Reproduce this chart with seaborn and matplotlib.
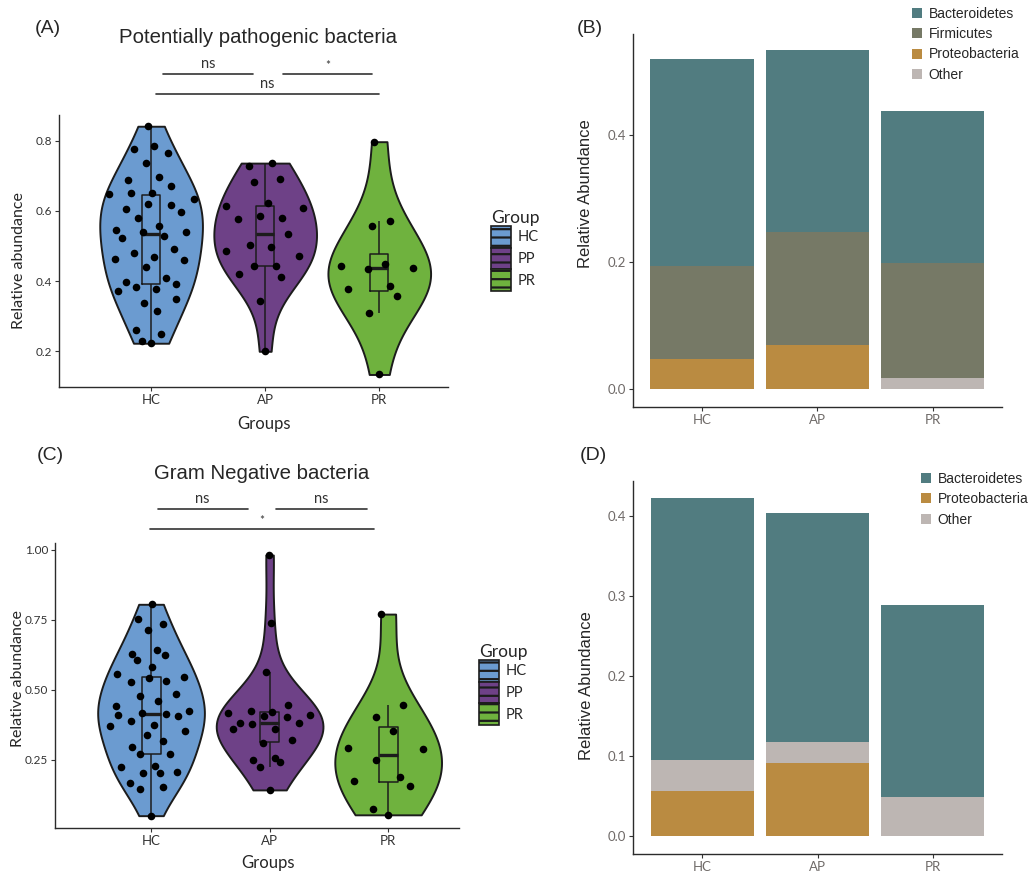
import numpy as np
import pandas as pd
import matplotlib
matplotlib.use("Agg")
import matplotlib.pyplot as plt
from matplotlib.patches import Patch
import seaborn as sns

# ── data ──────────────────────────────────────────────────────────────────────

GROUPS = ["HC", "AP", "PR"]
LEGEND_LABELS = ["HC", "PP", "PR"]
GROUP_COLORS = ["#6B9BD0", "#6E4187", "#6FB23E"]

# (A) potentially pathogenic bacteria, relative abundance per sample
PATH_HC = [0.841, 0.776, 0.765, 0.786, 0.736, 0.688, 0.697, 0.672, 0.650, 0.650,
           0.648, 0.596, 0.619, 0.604, 0.633, 0.616, 0.581, 0.558, 0.546, 0.539,
           0.539, 0.527, 0.523, 0.492, 0.479, 0.470, 0.462, 0.459, 0.441, 0.410,
           0.396, 0.391, 0.384, 0.378, 0.371, 0.350, 0.338, 0.315, 0.261, 0.248,
           0.230, 0.223]
PATH_AP = [0.736, 0.729, 0.691, 0.683, 0.623, 0.613, 0.607, 0.585, 0.579, 0.576,
           0.533, 0.503, 0.497, 0.487, 0.471, 0.444, 0.444, 0.419, 0.413, 0.344,
           0.200]
PATH_PR = [0.797, 0.572, 0.558, 0.449, 0.444, 0.438, 0.435, 0.387, 0.377, 0.358,
           0.310, 0.134]

# (C) gram negative bacteria
GRAM_HC = [0.806, 0.736, 0.713, 0.752, 0.642, 0.624, 0.607, 0.627, 0.582, 0.533,
           0.546, 0.542, 0.527, 0.556, 0.485, 0.480, 0.462, 0.443, 0.425, 0.417,
           0.413, 0.410, 0.408, 0.390, 0.373, 0.375, 0.338, 0.354, 0.319, 0.296,
           0.273, 0.273, 0.230, 0.224, 0.205, 0.205, 0.207, 0.167, 0.155, 0.145,
           0.051]
GRAM_AP = [0.982, 0.738, 0.563, 0.445, 0.425, 0.423, 0.418, 0.411, 0.407, 0.402,
           0.381, 0.380, 0.381, 0.360, 0.362, 0.323, 0.310, 0.250, 0.256, 0.244,
           0.226, 0.143]
GRAM_PR = [0.771, 0.448, 0.402, 0.354, 0.294, 0.288, 0.250, 0.189, 0.175, 0.156,
           0.075, 0.054]

# (B) stacked phylum means, bottom -> top
B_PROTEO = [0.047, 0.069, 0.000]
B_OTHER = [0.000, 0.000, 0.018]
B_FIRMI = [0.147, 0.178, 0.181]
B_BACT = [0.327, 0.287, 0.240]

# (D)
D_PROTEO = [0.056, 0.091, 0.000]
D_OTHER = [0.039, 0.026, 0.049]
D_BACT = [0.3275, 0.286, 0.239]

PHYLUM_COLORS = {
    "Bacteroidetes": "#517C80",
    "Firmicutes": "#767966",
    "Proteobacteria": "#BA8B41",
    "Other": "#BDB6B3",
}

# ── style ─────────────────────────────────────────────────────────────────────

sns.set_theme(style="ticks")
plt.rcParams.update({
    "font.family": ["Liberation Sans", "DejaVu Sans"],
    "hatch.linewidth": 1.6,
    "axes.linewidth": 1.0,
    "axes.edgecolor": "#2b2b2b",
})
HUMANIST = ["Lato", "DejaVu Sans"]
W, H = 1033, 872


def fx(x):
    return x / W


def fy(y):
    return 1 - y / H


def rect(left, top, right, bottom):
    return [fx(left), fy(bottom), (right - left) / W, (bottom - top) / H]


def long_df(hc, ap, pr):
    return pd.DataFrame({
        "group": ["HC"] * len(hc) + ["AP"] * len(ap) + ["PR"] * len(pr),
        "value": hc + ap + pr,
    })


def van_der_corput(n):
    out = []
    for i in range(1, n + 1):
        x, denom, k = 0.0, 1.0, i
        while k:
            k, r = divmod(k, 2)
            denom *= 2
            x += r / denom
        out.append(x)
    return np.array(out)


def quasirandom_x(df, width=0.4, adjust=0.5):
    """Beeswarm-style offsets: spread scaled by the local density."""
    xs = np.zeros(len(df))
    for i, g in enumerate(GROUPS):
        mask = (df["group"] == g).to_numpy()
        y = df.loc[mask, "value"].to_numpy()
        bw = y.std(ddof=1) * len(y) ** -0.2 * adjust
        dens = np.exp(-0.5 * ((y[:, None] - y[None, :]) / bw) ** 2).sum(axis=1)
        dens = dens / dens.max()
        rank = np.argsort(np.argsort(y, kind="stable"), kind="stable")
        off = (van_der_corput(len(y))[rank] - 0.5) * 2 * width * dens
        xs[mask] = i + off
    return xs


def violin_panel(ax, df, ylim, yticks, yticklabels, brackets, ylab_xy, xlab_xy):
    sns.violinplot(data=df, x="group", y="value", hue="group", order=GROUPS,
                   hue_order=GROUPS, palette=GROUP_COLORS, legend=False, cut=0,
                   inner=None, density_norm="width", width=0.9, bw_adjust=1.1,
                   saturation=1, linewidth=1.4, linecolor="#1c1c1c", ax=ax)
    sns.boxplot(data=df, x="group", y="value", order=GROUPS, width=0.16,
                fill=False, color="#1c1c1c", linewidth=1.1, showfliers=False,
                medianprops={"linewidth": 2.4}, capprops={"visible": False}, ax=ax)
    sns.scatterplot(x=quasirandom_x(df), y=df["value"].to_numpy(), color="black",
                    s=30, linewidth=0, zorder=5, legend=False, ax=ax)

    ax.set_xlim(-0.81, 2.6)
    ax.set_ylim(*ylim)
    ax.set_yticks(yticks)
    ax.set_yticklabels(yticklabels, family=HUMANIST, fontsize=8.5, color="#333333")
    ax.set_xticks(range(3))
    ax.set_xticklabels(GROUPS, family=HUMANIST, fontsize=9.5, color="#333333")
    ax.tick_params(length=3, width=0.8, color="#333333", pad=2)
    ax.set_ylabel("Relative abundance", family=HUMANIST, fontsize=11.5)
    ax.set_xlabel("Groups", family=HUMANIST, fontsize=12)
    ax.yaxis.set_label_coords(*ylab_xy)
    ax.xaxis.set_label_coords(*xlab_xy)
    sns.despine(ax=ax)

    trans = ax.get_xaxis_transform()
    for x0, x1, y, label in brackets:
        ax.plot([x0, x1], [y, y], color="#333333", lw=1.2, transform=trans,
                clip_on=False)
        ax.text((x0 + x1) / 2, y + 0.012, label, transform=trans, ha="center",
                va="bottom", fontsize=10.5 if label == "ns" else 8.5,
                family=HUMANIST, color="#333333")


def stack_panel(ax, layers, ylim, yticks, ylab_xy):
    cum = np.zeros(len(GROUPS))
    tops = []
    for name, vals in layers:
        cum = cum + np.array(vals)
        tops.append((name, cum.copy()))
    for name, top in reversed(tops):
        sns.barplot(x=GROUPS, y=top, color=PHYLUM_COLORS[name], width=0.9,
                    saturation=1, errorbar=None, linewidth=0, ax=ax)
    ax.set_xlim(-0.6, 2.6)
    ax.set_ylim(*ylim)
    ax.set_yticks(yticks)
    ax.set_yticklabels([f"{t:.1f}" for t in yticks], family=HUMANIST,
                       fontsize=9.5, color="#6f6a68")
    ax.set_xticks(range(3))
    ax.set_xticklabels(GROUPS, family=HUMANIST, fontsize=9.5, color="#6f6a68")
    ax.tick_params(length=3, width=0.8, color="#333333", pad=2)
    ax.set_ylabel("Relative Abundance", fontsize=12)
    ax.set_xlabel("")
    ax.yaxis.set_label_coords(*ylab_xy)
    sns.despine(ax=ax)


def phylum_legend(fig, names, anchor):
    handles = [Patch(facecolor=PHYLUM_COLORS[n], edgecolor="none") for n in names]
    fig.legend(handles, names, loc="upper left", bbox_to_anchor=anchor,
               frameon=False, borderpad=0, borderaxespad=0, handlelength=0.75,
               handleheight=0.75, handletextpad=0.45, labelspacing=0.45,
               fontsize=10)


def group_legend(fig, anchor):
    handles = [Patch(facecolor=c, edgecolor="#1c1c1c", hatch="--", linewidth=1.2)
               for c in GROUP_COLORS]
    leg = fig.legend(handles, LEGEND_LABELS, title="Group", loc="upper left",
                     bbox_to_anchor=anchor, frameon=False, borderpad=0,
                     borderaxespad=0, labelspacing=0, handlelength=1.35,
                     handleheight=1.9, handletextpad=0.5, alignment="left",
                     prop={"family": HUMANIST, "size": 10.5})
    leg.get_title().set_fontfamily(HUMANIST)
    leg.get_title().set_fontsize(12.5)


# ── figure ────────────────────────────────────────────────────────────────────

fig = plt.figure(figsize=(W / 100, H / 100), dpi=100)

ax_a = fig.add_axes(rect(58.7, 115, 447.7, 387.3))
ax_b = fig.add_axes(rect(633, 34, 1001.7, 406.7))
ax_c = fig.add_axes(rect(55, 542.7, 459.3, 827.7))
ax_d = fig.add_axes(rect(633.3, 480.7, 1001.7, 854))

violin_panel(
    ax_a, long_df(PATH_HC, PATH_AP, PATH_PR),
    ylim=(0.0975, 0.873), yticks=[0.2, 0.4, 0.6, 0.8],
    yticklabels=["0.2", "0.4", "0.6", "0.8"],
    brackets=[(0.105, 0.895, 1.151, "ns"), (1.158, 1.94, 1.151, "*"),
              (0.044, 2.0, 1.076, "ns")],
    ylab_xy=(-0.084, 0.465), xlab_xy=(0.529, -0.105),
)
violin_panel(
    ax_c, long_df(GRAM_HC, GRAM_AP, GRAM_PR),
    ylim=(0.008, 1.026), yticks=[0.25, 0.5, 0.75, 1.0],
    yticklabels=["0.25", "0.50", "0.75", "1.00"],
    brackets=[(0.056, 0.815, 1.117, "ns"), (1.056, 1.82, 1.117, "ns"),
              (-0.006, 1.88, 1.047, "*")],
    ylab_xy=(-0.074, 0.524), xlab_xy=(0.526, -0.0975),
)

stack_panel(
    ax_b,
    [("Proteobacteria", B_PROTEO), ("Other", B_OTHER),
     ("Firmicutes", B_FIRMI), ("Bacteroidetes", B_BACT)],
    ylim=(-0.028, 0.560), yticks=[0.0, 0.2, 0.4], ylab_xy=(-0.108, 0.572),
)
stack_panel(
    ax_d,
    [("Proteobacteria", D_PROTEO), ("Other", D_OTHER),
     ("Bacteroidetes", D_BACT)],
    ylim=(-0.0229, 0.444), yticks=[0.0, 0.1, 0.2, 0.3, 0.4],
    ylab_xy=(-0.108, 0.45),
)

group_legend(fig, (fx(491), fy(210)))
group_legend(fig, (fx(479), fy(644)))
phylum_legend(fig, ["Bacteroidetes", "Firmicutes", "Proteobacteria", "Other"],
              (fx(912), fy(7)))
phylum_legend(fig, ["Bacteroidetes", "Proteobacteria", "Other"],
              (fx(921), fy(472)))

fig.text(fx(258), fy(37.7), "Potentially pathogenic bacteria", ha="center",
         va="center", fontsize=14.7)
fig.text(fx(261.7), fy(473.3), "Gram Negative bacteria", ha="center",
         va="center", fontsize=14.7)
for label, x, y in [("(A)", 48.3, 28.3), ("(B)", 590, 28.3),
                    ("(C)", 50, 455), ("(D)", 593.3, 455)]:
    fig.text(fx(x), fy(y), label, ha="center", va="center", fontsize=14)

fig.savefig("out.png", dpi=100, facecolor="white")
